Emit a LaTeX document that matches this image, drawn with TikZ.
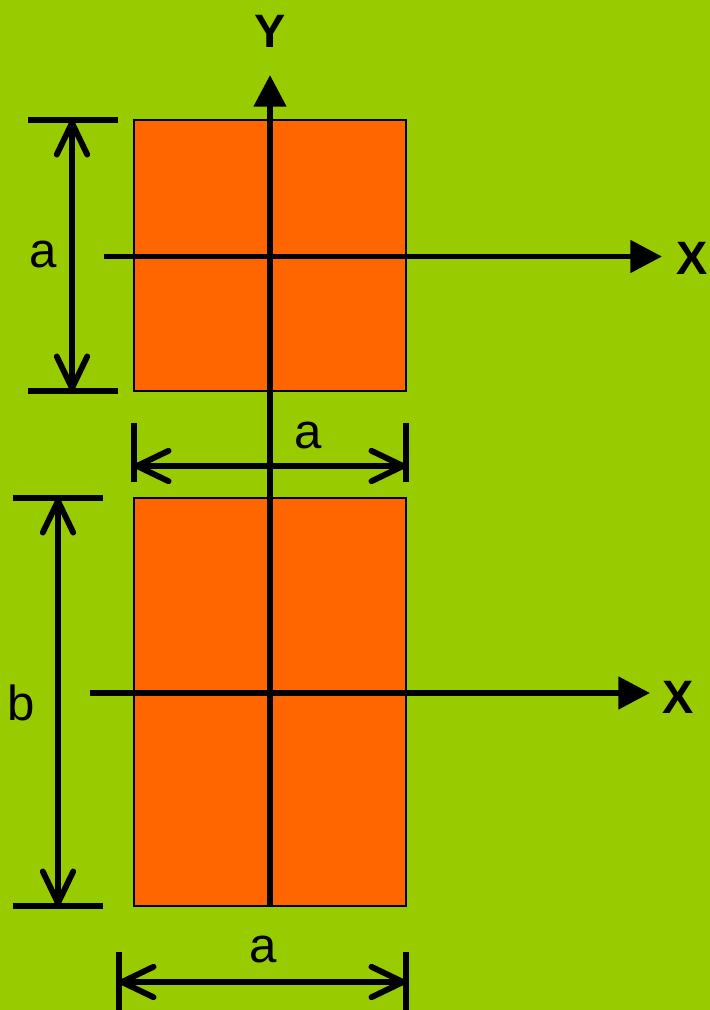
\documentclass[tikz,border=0pt]{standalone}
\usepackage{fontspec}
\setmainfont{Liberation Sans}
\usetikzlibrary{arrows.meta}
\definecolor{leaf}{HTML}{99CC00}
\definecolor{plateorange}{HTML}{FF6600}

\begin{document}
\begin{tikzpicture}[
  x=0.03cm, y=-0.03cm,
  axis/.style={line width=5pt, -{Triangle[length=27pt,width=27pt]}},
  dimline/.style={line width=5pt, {Straight Barb[length=27pt,width=26pt,round]}-{Straight Barb[length=27pt,width=26pt,round]}},
  limit/.style={line width=5pt},
  plate/.style={draw, line width=1.4pt, fill=plateorange, inner sep=0pt},
  lbl/.style={inner sep=0pt, font=\fontsize{42}{46}\selectfont},
  axlbl/.style={inner sep=0pt, font=\fontsize{40}{44}\selectfont\bfseries},
]
\useasboundingbox (0,0) rectangle (710,1010);
\fill[leaf] (0,0) rectangle (710,1010);
% the two sections
\node[plate, minimum width=8.16cm, minimum height=8.13cm] (sq) at (270,255.5) {};
\node[plate, minimum width=8.16cm, minimum height=12.24cm] (bar) at (270,702) {};
% axes
\coordinate (ytip) at (270,75);
\coordinate (xa0) at (104,256.5);  \coordinate (xa1) at (662,256.5);
\coordinate (xb0) at (90,693);     \coordinate (xb1) at (650,693);
\draw[axis] (bar.south) -- (ytip);
\draw[axis] (xa0) -- (xa1);
\draw[axis] (xb0) -- (xb1);
\node[axlbl] (ylab) at (270,31) {Y};
\node[axlbl] (xalab) at (692,258) {X};
\node[axlbl] (xblab) at (678,697) {X};
% dimensions of the square
\draw[limit] (28,120) -- (118,120);
\draw[limit] (28,391) -- (118,391);
\coordinate (da0) at (72,120);  \coordinate (da1) at (72,391);
\draw[dimline] (da0) -- (da1);
\node[lbl] (alab1) at (43,254) {a};
\draw[limit] (134,423) -- (134,482);
\draw[limit] (406,423) -- (406,482);
\coordinate (db0) at (134,466);  \coordinate (db1) at (406,466);
\draw[dimline] (db0) -- (db1);
\node[lbl] (alab2) at (308,435) {a};
% dimensions of the rectangle
\draw[limit] (13,498) -- (103,498);
\draw[limit] (13,906) -- (103,906);
\coordinate (dc0) at (58,498);  \coordinate (dc1) at (58,906);
\draw[dimline] (dc0) -- (dc1);
\node[lbl] (blab) at (21,703) {b};
\draw[limit] (119,952) -- (119,1010);
\draw[limit] (406,952) -- (406,1010);
\coordinate (dd0) at (119,982);  \coordinate (dd1) at (406,982);
\draw[dimline] (dd0) -- (dd1);
\node[lbl] (alab3) at (263,949) {a};
\end{tikzpicture}
\end{document}
